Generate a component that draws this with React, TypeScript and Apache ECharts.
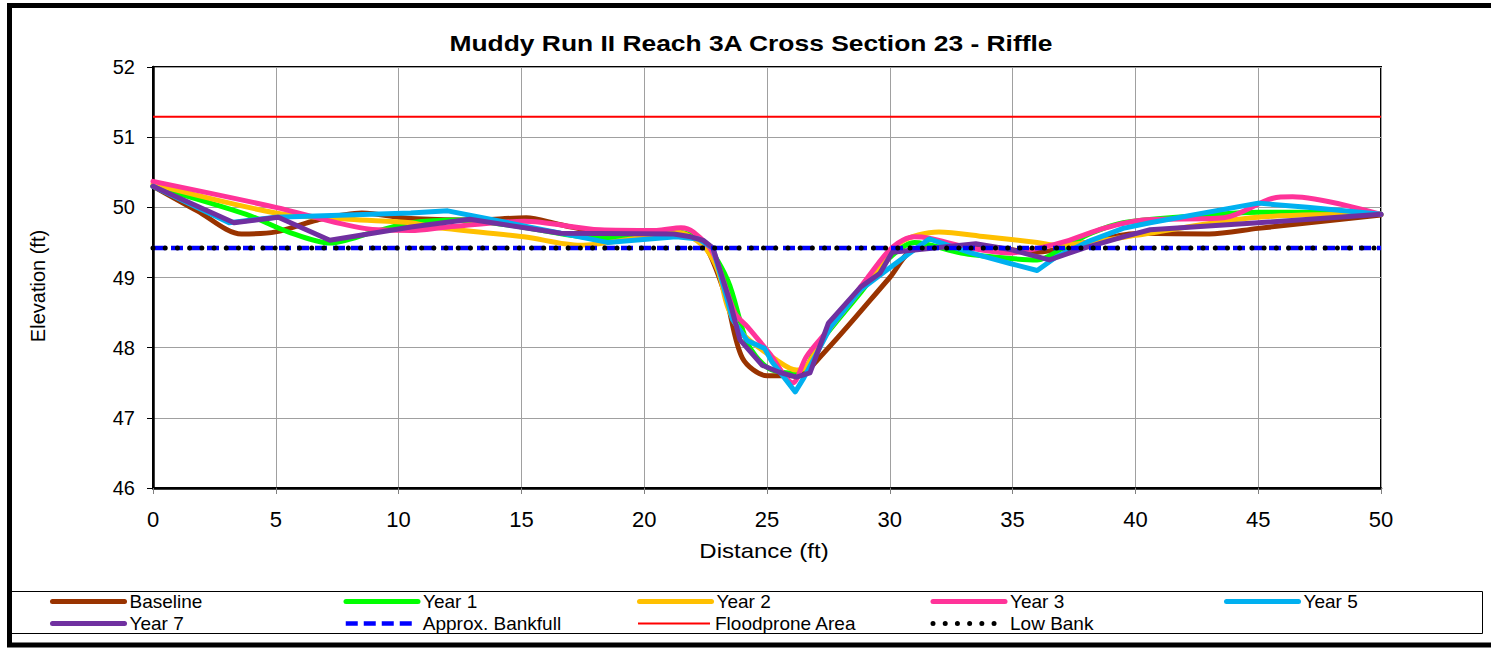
import React, { useEffect, useRef } from "react";
import * as echarts from "echarts";

const TITLE = "Muddy Run II Reach 3A Cross Section 23 - Riffle";
const X_NAME = "Distance (ft)";
const Y_NAME = "Elevation (ft)";
const FONT = 'Arial, "Liberation Sans", Helvetica, sans-serif';

const X_TICKS = { min: 0, max: 50, interval: 5 };
const Y_TICKS = { min: 46, max: 52, interval: 1 };

const baseline: [number, number][] = [
  [0, 50.3], [1.8, 49.95], [3.6, 49.62], [5, 49.65], [6.7, 49.82], [8.5, 49.92],
  [10.5, 49.84], [13, 49.82], [15.2, 49.85], [16.5, 49.76], [18.5, 49.63],
  [21.5, 49.62], [22.4, 49.5], [23.3, 48.75], [24, 47.85], [25, 47.6],
  [26.2, 47.6], [27.3, 47.92], [30, 49.0], [31, 49.4], [33.5, 49.45],
  [36, 49.36], [38, 49.5], [40.2, 49.63], [43, 49.62], [45, 49.7], [50, 49.89],
];
const year1: [number, number][] = [
  [0, 50.3], [3.8, 49.9], [5.5, 49.65], [7.2, 49.49], [9, 49.65], [10.5, 49.78],
  [12.5, 49.82], [15, 49.72], [18.2, 49.56], [21.3, 49.65], [22.4, 49.5],
  [23.4, 48.96], [24.2, 48.07], [25, 47.72], [25.9, 47.64], [26.6, 47.73],
  [27, 48.0], [28.8, 48.78], [29.9, 49.25], [31, 49.5], [32.9, 49.35],
  [34.6, 49.28], [36, 49.25], [37.1, 49.43], [38.2, 49.63], [39.5, 49.78],
  [42.5, 49.88], [45, 49.93], [47, 49.93], [50, 49.9],
];
const year2: [number, number][] = [
  [0, 50.33], [5, 49.92], [8, 49.83], [10.5, 49.78], [11.4, 49.72], [15.1, 49.58],
  [17.4, 49.46], [19.5, 49.55], [21.3, 49.65], [22.4, 49.45], [23, 49.1],
  [23.4, 48.58], [24, 48.2], [25.4, 47.82], [26.2, 47.68], [26.6, 47.73],
  [27.4, 48.2], [29, 48.9], [30.4, 49.49], [32, 49.65], [33.9, 49.58],
  [36, 49.5], [36.8, 49.46], [38.7, 49.53], [40, 49.6], [45, 49.86], [50, 49.9],
];
const year3: [number, number][] = [
  [0, 50.37], [5, 50.0], [8.6, 49.7], [10.5, 49.67], [12, 49.72], [15.1, 49.8],
  [18.2, 49.68], [20.5, 49.67], [21.5, 49.71], [22, 49.65], [22.8, 49.35],
  [23.7, 48.49], [24.2, 48.3], [25.1, 47.92], [26.05, 47.5], [26.6, 47.87],
  [27.6, 48.3], [29.1, 49.0], [30.1, 49.43], [31, 49.58], [31.6, 49.56],
  [33.3, 49.42], [34.9, 49.35], [36.2, 49.43], [37.3, 49.53], [38.7, 49.7],
  [40.3, 49.82], [43.6, 49.85], [45.6, 50.13], [46.4, 50.15], [50, 49.9],
];
const year5: [number, number][] = [
  [0, 50.3], [3.1, 49.78], [5, 49.86], [10.5, 49.92], [12, 49.95], [18.5, 49.5],
  [21.3, 49.58], [22.2, 49.55], [22.8, 49.42], [23.6, 48.4], [24.2, 48.1],
  [24.9, 47.99], [25.2, 47.8], [26.15, 47.37], [26.5, 47.57], [27.6, 48.3],
  [28.8, 48.82], [30, 49.14], [31.6, 49.55], [33.3, 49.35], [34.9, 49.2],
  [36, 49.1], [36.8, 49.3], [38.2, 49.53], [39.5, 49.7], [40.6, 49.78],
  [45, 50.06], [47, 50.0], [50, 49.9],
];
const year7: [number, number][] = [
  [0, 50.3], [3.3, 49.78], [5.1, 49.86], [7.2, 49.53], [10.5, 49.72], [12.9, 49.83],
  [16.6, 49.63], [21.2, 49.62], [21.9, 49.58], [22.4, 49.53], [22.8, 49.42],
  [23.5, 48.64], [23.9, 48.11], [24.8, 47.75], [25.5, 47.65], [26.2, 47.58],
  [26.75, 47.64], [27.5, 48.35], [28.8, 48.86], [29.6, 49.06], [30.1, 49.36],
  [31.2, 49.4], [33.5, 49.48], [34.9, 49.4], [36.5, 49.25], [37.9, 49.42],
  [39.5, 49.58], [40.6, 49.68], [45, 49.78], [50, 49.9],
];
const bankfull: [number, number][] = [[0, 49.42], [50, 49.42]];
const floodprone: [number, number][] = [[0, 51.29], [50, 51.29]];
const lowBank: [number, number][] = [[0, 49.42], [50, 49.42]];

const SERIES_NAMES = [
  "Baseline", "Year 1", "Year 2", "Year 3", "Year 5",
  "Year 7", "Approx. Bankfull", "Floodprone Area", "Low Bank",
];
const SERIES_COLORS = [
  "#993300", "#00ff00", "#ffc000", "#ff3399", "#00b0f0",
  "#7030a0", "#0000ff", "#ff0000", "#000000",
];

const SURVEY_W = 5;
const BANKFULL_STYLE = { width: 4.5, type: [12, 6] as number[], cap: "butt" };
const FLOOD_STYLE = { width: 2, type: "solid", cap: "butt" };
const LOWBANK_STYLE = { width: 5, type: [0.01, 12.2] as number[], cap: "round" };

export default function App() {
  const ref = useRef<HTMLDivElement>(null);
  useEffect(() => {
    document.body.style.margin = "0";
    if (!ref.current) return;
    const chart = echarts.init(ref.current, undefined, { renderer: "svg" });

    const surveyLine = (i: number, data: [number, number][], smooth: number | boolean) => ({
      name: SERIES_NAMES[i],
      type: "line",
      data,
      smooth,
      symbol: "none",
      showSymbol: false,
      lineStyle: { color: SERIES_COLORS[i], width: SURVEY_W, cap: "round", join: "round" },
      itemStyle: { color: SERIES_COLORS[i] },
    });

    const legendLineStyle = (i: number) => {
      const base = i === 6 ? BANKFULL_STYLE : i === 7 ? FLOOD_STYLE : i === 8 ? LOWBANK_STYLE
        : { width: SURVEY_W, type: "solid", cap: "round" };
      return { ...base, color: SERIES_COLORS[i] };
    };

    const option: any = {
      animation: false,
      backgroundColor: "#fff",
      grid: {
        left: 153, top: 67, right: 110, bottom: 160,
        show: true, borderColor: "#000", borderWidth: 2, backgroundColor: "transparent",
      },
      xAxis: {
        type: "value",
        min: X_TICKS.min, max: X_TICKS.max, interval: X_TICKS.interval,
        axisLine: { show: true, onZero: false, lineStyle: { color: "#000", width: 2.5 } },
        axisTick: { show: true, length: 6, lineStyle: { color: "#808080" } },
        axisLabel: { color: "#000", fontSize: 22, fontFamily: FONT, margin: 20 },
        splitLine: { show: true, lineStyle: { color: "#a0a0a0", width: 1 } },
      },
      yAxis: {
        type: "value",
        min: Y_TICKS.min, max: Y_TICKS.max, interval: Y_TICKS.interval,
        axisLine: { show: true, onZero: false, lineStyle: { color: "#000", width: 2.5 } },
        axisTick: { show: true, length: 6, lineStyle: { color: "#000" } },
        axisLabel: { color: "#000", fontSize: 20, fontFamily: FONT, margin: 18 },
        splitLine: { show: true, lineStyle: { color: "#a0a0a0", width: 1 } },
      },
      legend: SERIES_NAMES.map((name, i) => ({
        data: [name],
        left: 50 + (i % 5) * 293.5,
        top: 592 + Math.floor(i / 5) * 22,
        padding: 0,
        itemWidth: 72,
        itemHeight: 18,
        selectedMode: false,
        itemStyle: { color: "transparent", borderWidth: 0, opacity: 0 },
        lineStyle: legendLineStyle(i),
        textStyle: { fontSize: 19, color: "#000", fontFamily: FONT },
      })),
      series: [
        surveyLine(0, baseline, 0.3),
        surveyLine(1, year1, 0.3),
        surveyLine(2, year2, 0.3),
        surveyLine(3, year3, 0.3),
        surveyLine(4, year5, false),
        surveyLine(5, year7, false),
        {
          name: SERIES_NAMES[6], type: "line", data: bankfull, symbol: "none", showSymbol: false,
          lineStyle: { ...BANKFULL_STYLE, color: SERIES_COLORS[6] },
          itemStyle: { color: SERIES_COLORS[6] },
        },
        {
          name: SERIES_NAMES[7], type: "line", data: floodprone, symbol: "none", showSymbol: false,
          lineStyle: { ...FLOOD_STYLE, color: SERIES_COLORS[7] },
          itemStyle: { color: SERIES_COLORS[7] },
        },
        {
          name: SERIES_NAMES[8], type: "line", data: lowBank, symbol: "none", showSymbol: false,
          lineStyle: { ...LOWBANK_STYLE, color: SERIES_COLORS[8] },
          itemStyle: { color: SERIES_COLORS[8] },
        },
      ],
      graphic: [
        {
          type: "rect", silent: true, z: 0,
          shape: { x: 9.5, y: 5.5, width: 1600, height: 639.5 },
          style: { fill: "transparent", stroke: "#000", lineWidth: 5 },
        },
        {
          type: "rect", silent: true, z: 0,
          shape: { x: 11.5, y: 591.5, width: 1471, height: 42 },
          style: { fill: "transparent", stroke: "#000", lineWidth: 1 },
        },
        {
          type: "text", x: 751, y: 43, scaleX: 1.2,
          style: { text: TITLE, font: `bold 22px ${FONT}`, fill: "#000", textAlign: "center", textVerticalAlign: "middle" },
        },
        {
          type: "text", x: 764, y: 551, scaleX: 1.2,
          style: { text: X_NAME, font: `20px ${FONT}`, fill: "#000", textAlign: "center", textVerticalAlign: "middle" },
        },
        {
          type: "text", x: 38, y: 286, rotation: Math.PI / 2,
          style: { text: Y_NAME, font: `20px ${FONT}`, fill: "#000", textAlign: "center", textVerticalAlign: "middle" },
        },
      ],
    };
    chart.setOption(option);
    return () => chart.dispose();
  }, []);
  return <div ref={ref} style={{ position: "absolute", left: 0, top: 0, width: 1491, height: 648 }} />;
}
